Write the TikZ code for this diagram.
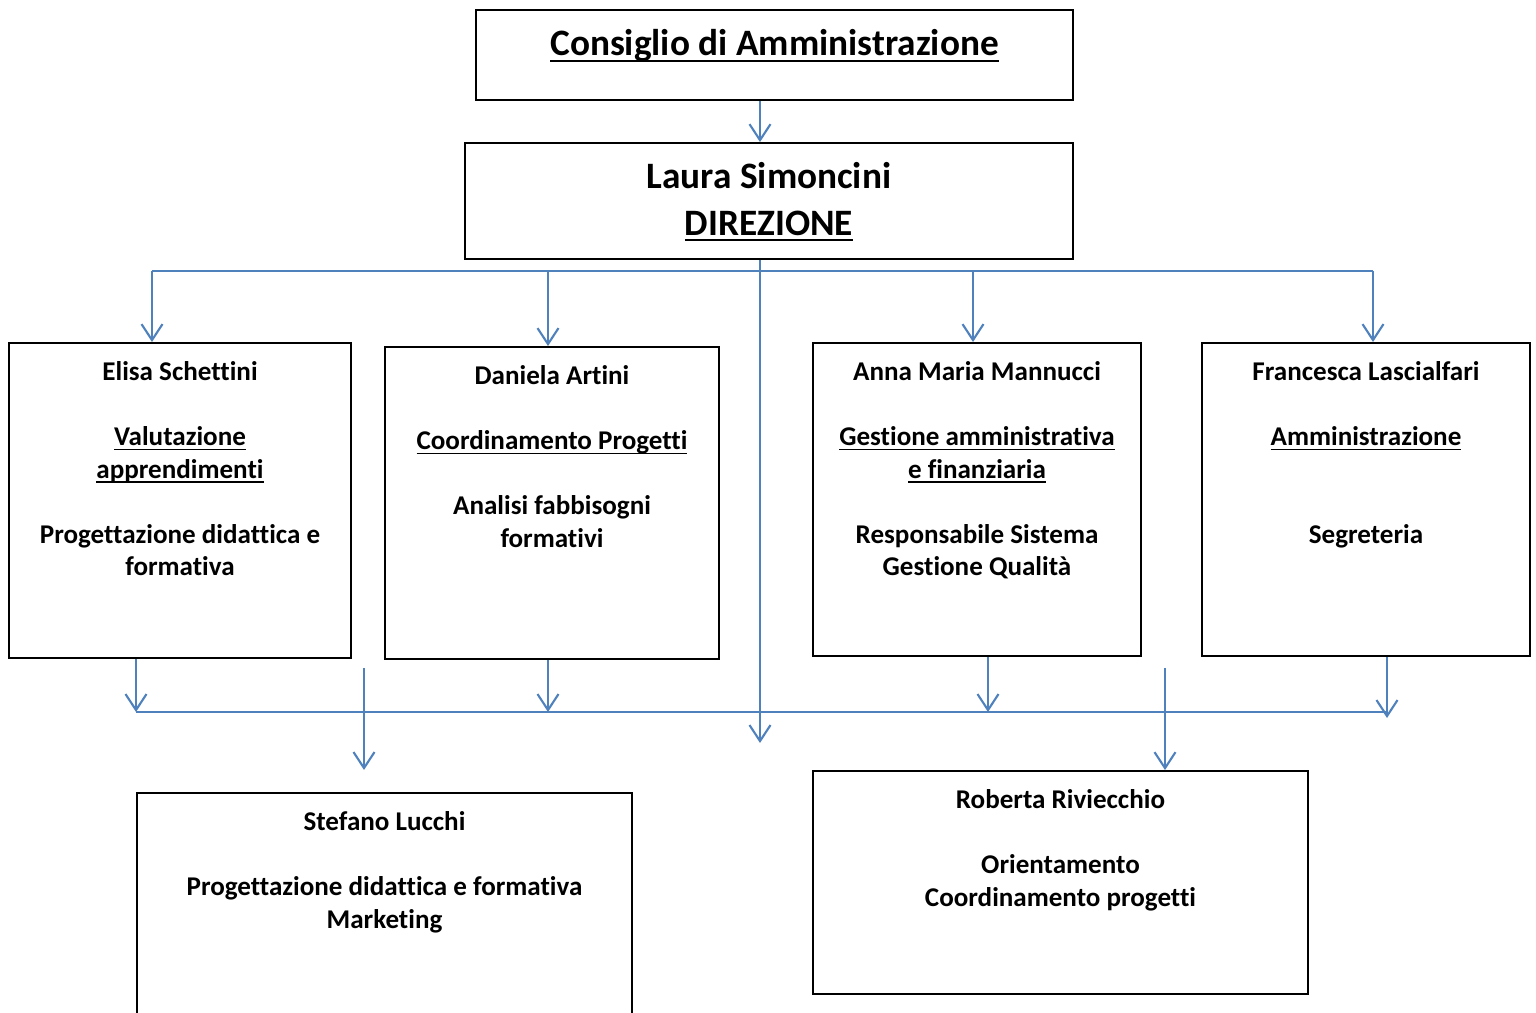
\documentclass[tikz,border=0pt]{standalone}
\usepackage{fontspec}
\setmainfont{Carlito}[Ligatures=NoCommon]
\usetikzlibrary{arrows.meta}
\definecolor{linkblue}{RGB}{79,129,189}
\tikzset{
  box/.style={draw,line width=0.5pt,inner sep=0pt},
  txt/.style={align=center,inner sep=0pt,anchor=north,font=\fontsize{7.7}{9.25}\selectfont\bfseries},
  bigtxt/.style={txt,font=\fontsize{10.6}{13.1}\selectfont\bfseries},
  line/.style={draw=linkblue,line width=0.6pt},
  arr/.style={line,-{Straight Barb[length=1.6mm,width=2.1mm]}}
}
\newcommand{\gap}{\\[9.25pt]}
\newcommand{\ul}[1]{\setbox0\hbox{#1}\rlap{\rule[-0.17em]{\wd0}{0.065em}}\box0}

\begin{document}
\begin{tikzpicture}[x=0.01cm,y=-0.01cm]
        \clip (0,0) rectangle (1536,1013);
        \node (cda) [box,minimum width=5.97cm,minimum height=0.90cm] at (774.5,55) {};
        \node (dir) [box,minimum width=6.08cm,minimum height=1.16cm] at (769,201) {};
        \node (elisa) [box,minimum width=3.42cm,minimum height=3.15cm] at (180,500.5) {};
        \node (daniela) [box,minimum width=3.34cm,minimum height=3.12cm] at (552,503) {};
        \node (anna) [box,minimum width=3.28cm,minimum height=3.13cm] at (977,499.5) {};
        \node (francesca) [box,minimum width=3.28cm,minimum height=3.13cm] at (1366,499.5) {};
        \node (stefano) [box,minimum width=4.95cm,minimum height=2.60cm] at (384.5,923) {};
        \node (roberta) [box,minimum width=4.95cm,minimum height=2.23cm] at (1060.5,882.5) {};
        \node (cdaT) [bigtxt] at ([yshift=-0.20cm]cda.north) {\ul{Consiglio di Amministrazione}};
        \node (dirT) [bigtxt] at ([yshift=-0.20cm]dir.north) {Laura Simoncini\\\ul{DIREZIONE}};
        \node (elisaT) [txt] at ([yshift=-0.19cm]elisa.north) {Elisa Schettini\gap\ul{Valutazione}\\\ul{apprendimenti}\gap Progettazione didattica e\\formativa};
        \node (danielaT) [txt] at ([yshift=-0.19cm]daniela.north) {Daniela Artini\gap\ul{Coordinamento Progetti}\gap Analisi fabbisogni\\formativi};
        \node (annaT) [txt] at ([yshift=-0.19cm]anna.north) {Anna Maria Mannucci\gap\ul{Gestione amministrativa}\\\ul{e finanziaria}\gap Responsabile Sistema\\Gestione Qualità};
        \node (francescaT) [txt] at ([yshift=-0.19cm]francesca.north) {Francesca Lascialfari\gap\ul{Amministrazione}\\[18.5pt]Segreteria};
        \node (stefanoT) [txt] at ([yshift=-0.19cm]stefano.north) {Stefano Lucchi\gap Progettazione didattica e formativa\\Marketing};
        \node (robertaT) [txt] at ([yshift=-0.19cm]roberta.north) {Roberta Riviecchio\gap Orientamento\\Coordinamento progetti};
        \coordinate (xm) at (760,0);
        \coordinate (mEnd) at (760,743);
        \coordinate (te) at (152,271);
        \coordinate (td) at (548,271);
        \coordinate (ta) at (973,271);
        \coordinate (tf) at (1373,271);
        \coordinate (be) at (136,712);
        \coordinate (bd) at (548,712);
        \coordinate (ba) at (988,712);
        \coordinate (bf) at (1387,712);
        \coordinate (ds) at (364,668);
        \coordinate (dsEnd) at (364,770);
        \coordinate (dr) at (1165,668);
        \draw [arr] (cda.south -| xm) -- (dir.north -| xm);
        \draw [line] (te) -- (tf);
        \draw [arr] (dir.south -| xm) -- (mEnd);
        \draw [arr] (te) -- (te |- elisa.north);
        \draw [arr] (td) -- (td |- daniela.north);
        \draw [arr] (ta) -- (ta |- anna.north);
        \draw [arr] (tf) -- (tf |- francesca.north);
        \draw [line] (be) -- (bf);
        \draw [arr] (elisa.south -| be) -- (be);
        \draw [arr] (daniela.south -| bd) -- (bd);
        \draw [arr] (anna.south -| ba) -- (ba);
        \draw [arr] (francesca.south -| bf) -- ([yshift=-0.06cm]bf);
        \draw [arr] (ds) -- (dsEnd);
        \draw [arr] (dr) -- (dr |- roberta.north);
    \end{tikzpicture}
\end{document}
